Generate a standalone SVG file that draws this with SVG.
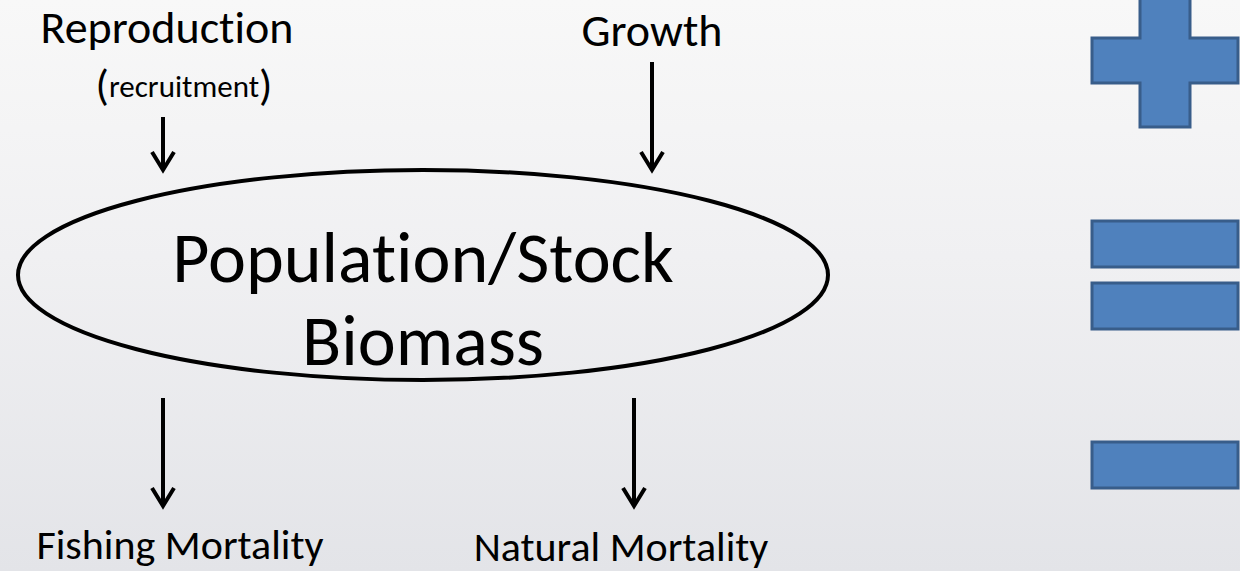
<svg xmlns="http://www.w3.org/2000/svg" width="1240" height="571" viewBox="0 0 1240 571">
<defs>
<linearGradient id="bg" x1="0" y1="0" x2="0" y2="1">
<stop offset="0" stop-color="#f8f8f8"/>
<stop offset="0.45" stop-color="#f0f0f2"/>
<stop offset="1" stop-color="#e3e4e8"/>
</linearGradient>
<style>
.t{font-family:"Carlito","Lato","Open Sans",sans-serif;fill:#000;font-variant-ligatures:none;font-feature-settings:"liga" 0}
.c{stroke:#000;stroke-width:4;fill:none}
.sym{fill:#4F81BD;stroke:#385D8A;stroke-width:3}
</style>
</defs>
<rect width="1240" height="571" fill="url(#bg)"/>
<g id="connectors">
<line class="c" x1="163" y1="117" x2="163" y2="168"/>
<path class="c" d="M152,152 L163,170 L174,152"/>
<line class="c" x1="652" y1="62" x2="652" y2="168"/>
<path class="c" d="M641,152 L652,170 L663,152"/>
<line class="c" x1="163" y1="398" x2="163" y2="504"/>
<path class="c" d="M152,488 L163,506 L174,488"/>
<line class="c" x1="634" y1="398" x2="634" y2="504"/>
<path class="c" d="M623,488 L634,506 L645,488"/>
</g>
<g id="stock">
<ellipse cx="423" cy="275" rx="405" ry="105" fill="none" stroke="#000" stroke-width="4"/>
<text class="t" x="423" y="282" font-size="72" text-anchor="middle">Population/Stock</text>
<text class="t" x="423" y="365" font-size="72" text-anchor="middle">Biomass</text>
</g>
<g id="reproduction">
<text class="t" x="167" y="43" font-size="46" text-anchor="middle">Reproduction</text>
<text class="t" x="184" y="100" font-size="44" text-anchor="middle">(<tspan font-size="31" dy="-3">recruitment</tspan><tspan dy="3">)</tspan></text>
</g>
<g id="growth">
<text class="t" x="652" y="46" font-size="46" text-anchor="middle">Growth</text>
</g>
<g id="fishing">
<text class="t" x="180" y="559" font-size="42" text-anchor="middle">Fishing Mortality</text>
</g>
<g id="natural">
<text class="t" x="621" y="561" font-size="42" text-anchor="middle">Natural Mortality</text>
</g>
<g id="plus">
<path class="sym" d="M1140,-2 H1190 V38 H1238 V83 H1190 V127 H1140 V83 H1092 V38 H1140 Z"/>
</g>
<g id="equals">
<rect class="sym" x="1092" y="221" width="146" height="46"/>
<rect class="sym" x="1092" y="283" width="146" height="46"/>
</g>
<g id="minus">
<rect class="sym" x="1092" y="442" width="146" height="46"/>
</g>
</svg>
